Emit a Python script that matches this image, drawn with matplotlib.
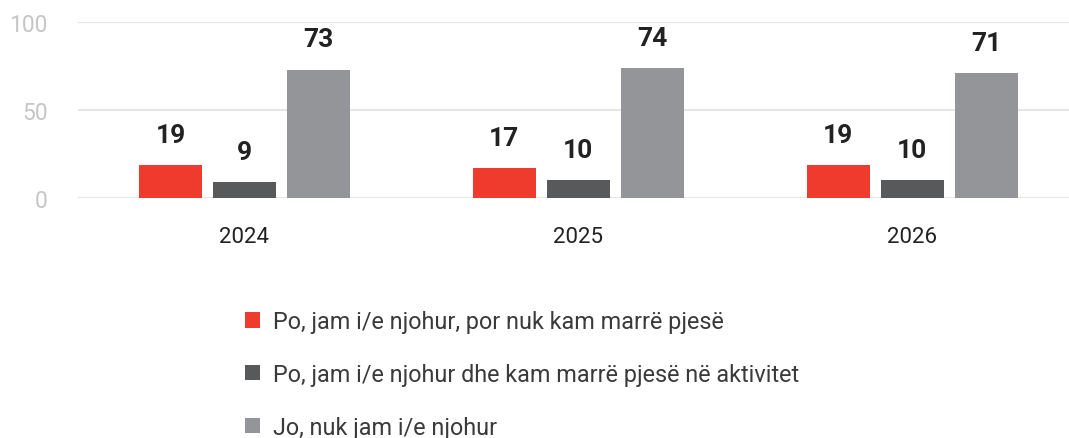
import numpy as np
import matplotlib.pyplot as plt
from matplotlib.patches import Patch

plt.rcParams['font.family'] = ['Roboto', 'DejaVu Sans']

years = ['2024', '2025', '2026']
series_names = ['Po, jam i/e njohur, por nuk kam marrë pjesë',
                'Po, jam i/e njohur dhe kam marrë pjesë në aktivitet',
                'Jo, nuk jam i/e njohur']
aware_not_participated = [19, 17, 19]
aware_participated = [9, 10, 10]
not_aware = [73, 74, 71]
colors = ['#EE3B2E', '#58595B', '#939598']

fig = plt.figure(figsize=(10.69, 4.39), dpi=100)
ax = fig.add_axes([78 / 1069, 1 - 199 / 439, 1 - 78 / 1069, (199 - 23) / 439])

x = np.arange(len(years))
pitch = 0.2216
width = 0.189
values = [aware_not_participated, aware_participated, not_aware]
for i, (vals, col) in enumerate(zip(values, colors)):
    bars = ax.bar(x + (i - 1) * pitch, vals, width=width, color=col, zorder=3)
    for b, v in zip(bars, vals):
        ax.annotate(str(v), (b.get_x() + b.get_width() / 2, v),
                    xytext=(0, 13), textcoords='offset points',
                    ha='center', va='bottom', fontsize=19, fontweight='bold',
                    color='#222222', annotation_clip=False)

ax.set_xlim(-0.4985, 2.47)
ax.set_ylim(0, 100)
ax.set_yticks([0, 50, 100])
ax.set_xticks(x)
ax.set_xticklabels(years, fontsize=16, color='#222222')
ax.tick_params(axis='x', length=0, pad=20)
ax.tick_params(axis='y', length=0, pad=22, labelsize=16.5, labelcolor='#c6c6c6')
ax.grid(axis='y', color='#e6e6e6', linewidth=1.5, zorder=0)
for s in ax.spines.values():
    s.set_visible(False)

handles = [Patch(facecolor=c, edgecolor='none') for c in colors]
fig.legend(handles, series_names, loc='upper left',
           bbox_to_anchor=(224 / 1069, 1 - 290 / 439), frameon=False,
           fontsize=16.8, labelcolor='#3a3a3a', handlelength=0.65,
           handleheight=0.65, handletextpad=0.55, labelspacing=1.28)

plt.savefig('out.png', dpi=100)
